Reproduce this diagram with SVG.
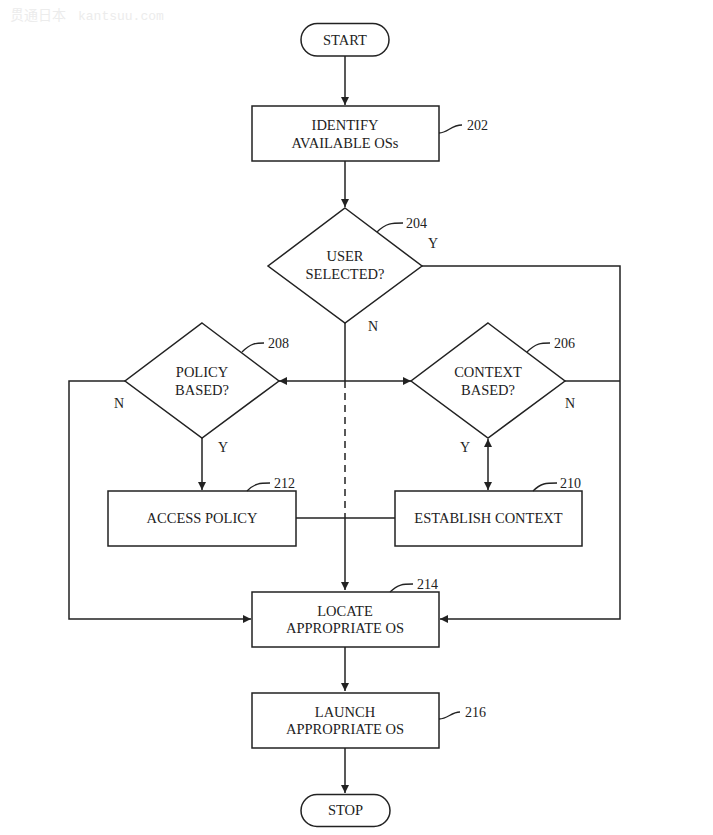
<svg xmlns="http://www.w3.org/2000/svg" width="713" height="835" viewBox="0 0 713 835">
<defs>
<marker id="ah" viewBox="0 0 10 10" refX="10" refY="5" markerWidth="8" markerHeight="8" markerUnits="userSpaceOnUse" orient="auto-start-reverse">
<path d="M0,0 L10,5 L0,10 z" fill="#222"/>
</marker>
<style>
.s{fill:#fff;stroke:#222;stroke-width:1.5}
.t{font-family:"Liberation Serif","Times New Roman",serif;font-size:14.5px;fill:#222;text-anchor:middle}
.n{font-family:"Liberation Serif","Times New Roman",serif;font-size:14px;fill:#222}
.c{fill:none;stroke:#222;stroke-width:1.5}
.l{fill:none;stroke:#222;stroke-width:1.3}
.w{font-family:"Noto Sans CJK SC","Liberation Mono",monospace;font-size:14px;fill:#ececec}
</style>
</defs>
<rect width="713" height="835" fill="#fff"/>
<text class="w" x="10" y="20">贯通日本<tspan x="78" font-family="Liberation Mono" font-size="13px">kantsuu.com</tspan></text>

<g id="connectors">
<path class="c" d="M345,56 V105" marker-end="url(#ah)"/>
<path class="c" d="M345,161 V207" marker-end="url(#ah)"/>
<path class="c" d="M422,266 H620 V619 H440" marker-end="url(#ah)"/>
<path class="c" d="M345,323 V381"/>
<path class="c" d="M345,381 V518" stroke-dasharray="7,5"/>
<path class="c" d="M345,518 V590" marker-end="url(#ah)"/>
<path class="c" d="M279,381 H411" marker-start="url(#ah)" marker-end="url(#ah)"/>
<path class="c" d="M125,381 H69 V619 H251" marker-end="url(#ah)"/>
<path class="c" d="M565,381 H620"/>
<path class="c" d="M202,438 V490" marker-end="url(#ah)"/>
<path class="c" d="M488,439 V490" marker-start="url(#ah)" marker-end="url(#ah)"/>
<path class="c" d="M296,518 H395"/>
<path class="c" d="M345,647 V691" marker-end="url(#ah)"/>
<path class="c" d="M345,748 V793" marker-end="url(#ah)"/>
</g>

<g id="start">
<rect class="s" x="301" y="23.5" width="88" height="32.5" rx="16.25"/>
<text class="t" x="345" y="44.5">START</text>
</g>

<g id="n202">
<rect class="s" x="252" y="106" width="187" height="55"/>
<text class="t" x="345" y="130">IDENTIFY</text>
<text class="t" x="345" y="148">AVAILABLE OSs</text>
<path class="l" d="M439,133 C448,133 451,125 462,125"/>
<text class="n" x="467" y="130">202</text>
</g>

<g id="n204">
<polygon class="s" points="345,208 422,266 345,323 268,266"/>
<text class="t" x="345" y="261">USER</text>
<text class="t" x="345" y="279">SELECTED?</text>
<path class="l" d="M377,232 C386,223 392,223 403,223"/>
<text class="n" x="406" y="228">204</text>
<text class="n" x="428" y="248">Y</text>
<text class="n" x="368" y="331">N</text>
</g>

<g id="n208">
<polygon class="s" points="202,323 279,381 202,438 125,381"/>
<text class="t" x="202" y="377">POLICY</text>
<text class="t" x="202" y="395">BASED?</text>
<path class="l" d="M242,352 C251,343 256,343 264,343"/>
<text class="n" x="268" y="348">208</text>
<text class="n" x="114" y="408">N</text>
<text class="n" x="218" y="452">Y</text>
</g>

<g id="n206">
<polygon class="s" points="488,323 565,381 488,438 411,381"/>
<text class="t" x="488" y="377">CONTEXT</text>
<text class="t" x="488" y="395">BASED?</text>
<path class="l" d="M527,352 C536,343 541,343 550,343"/>
<text class="n" x="554" y="348">206</text>
<text class="n" x="565" y="408">N</text>
<text class="n" x="460" y="452">Y</text>
</g>

<g id="n212">
<rect class="s" x="108" y="491" width="188" height="55"/>
<text class="t" x="202" y="523">ACCESS POLICY</text>
<path class="l" d="M247,491 C255,483 260,483 270,483"/>
<text class="n" x="274" y="488">212</text>
</g>

<g id="n210">
<rect class="s" x="395" y="491" width="187" height="55"/>
<text class="t" x="488.5" y="523">ESTABLISH CONTEXT</text>
<path class="l" d="M533,491 C541,483 546,483 557,483"/>
<text class="n" x="560" y="488">210</text>
</g>

<g id="n214">
<rect class="s" x="252" y="592" width="187" height="55"/>
<text class="t" x="345" y="615.5">LOCATE</text>
<text class="t" x="345" y="633">APPROPRIATE OS</text>
<path class="l" d="M390,592 C398,584 403,584 413,584"/>
<text class="n" x="417" y="589">214</text>
</g>

<g id="n216">
<rect class="s" x="252" y="693" width="187" height="55"/>
<text class="t" x="345" y="716.5">LAUNCH</text>
<text class="t" x="345" y="734">APPROPRIATE OS</text>
<path class="l" d="M439,719 C448,719 451,712 460,712"/>
<text class="n" x="465" y="717">216</text>
</g>

<g id="stop">
<rect class="s" x="301" y="794.5" width="89" height="32" rx="16"/>
<text class="t" x="345.5" y="815">STOP</text>
</g>
</svg>
